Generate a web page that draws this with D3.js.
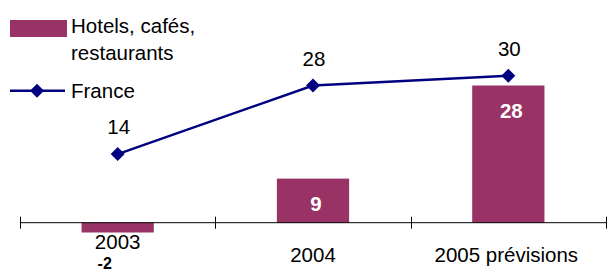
<!DOCTYPE html>
<html>
<head>
<meta charset="utf-8">
<script src="https://cdn.jsdelivr.net/npm/d3@7"></script>
<style>
  html, body { margin: 0; padding: 0; background: #fff; }
  svg { display: block; font-family: "Liberation Sans", Arial, sans-serif; }
</style>
</head>
<body>
<svg id="chart" width="607" height="273"></svg>
<script>
const categories = ["2003", "2004", "2005 prévisions"];
const hotels = [-2, 9, 28];
const france = [14, 28, 30];
const seriesNames = ["Hotels, cafés,\nrestaurants", "France"];

const barColor = "#993366";
const lineColor = "#000080";
const fs = 20.5;

const svg = d3.select("#chart");

const x = d3.scaleBand().domain(categories).range([20, 606]).padding(0);
const y = d3.scaleLinear().domain([0, 30]).range([222.7, 75.7]);
const barW = x.bandwidth() * 0.37;
const cx = c => x(c) + x.bandwidth() / 2;

// bars
svg.selectAll("rect.bar").data(categories).join("rect")
  .attr("class", "bar")
  .attr("x", c => cx(c) - barW / 2)
  .attr("width", barW)
  .attr("y", (c, i) => Math.min(y(hotels[i]), y(0)))
  .attr("height", (c, i) => Math.abs(y(hotels[i]) - y(0)))
  .attr("fill", barColor);

// axis
const axisG = svg.append("g").attr("transform", `translate(0,${y(0)})`);
axisG.append("line").attr("x1", 20).attr("x2", 606).attr("stroke", "#000").attr("stroke-width", 1);
const tickPos = categories.map(c => x(c)).concat([x.range()[1]]);
axisG.selectAll("line.tick").data(tickPos).join("line")
  .attr("class", "tick")
  .attr("x1", d => Math.round(d) + 0.5).attr("x2", d => Math.round(d) + 0.5)
  .attr("y1", -6).attr("y2", 6)
  .attr("stroke", "#000").attr("stroke-width", 1);

// category labels
svg.selectAll("text.cat").data(categories).join("text")
  .attr("class", "cat")
  .attr("x", (c, i) => cx(c) - (i === 2 ? 2 : 0))
  .attr("y", (c, i) => i === 0 ? 249 : 261.5)
  .attr("text-anchor", "middle")
  .attr("font-size", fs)
  .attr("fill", "#000")
  .text(c => c);

// bar value labels
svg.selectAll("text.barval").data(categories).join("text")
  .attr("class", "barval")
  .attr("x", (c, i) => hotels[i] < 0 ? cx(c) - 13 : cx(c) + 3)
  .attr("y", (c, i) => hotels[i] < 0 ? 269 : y(hotels[i]) + 32)
  .attr("text-anchor", "middle")
  .attr("font-size", (c, i) => hotels[i] < 0 ? 16 : fs)
  .attr("font-weight", "bold")
  .attr("fill", (c, i) => hotels[i] < 0 ? "#000" : "#fff")
  .text((c, i) => String(hotels[i]));

// line
const line = d3.line().x((d, i) => cx(categories[i])).y(d => y(d));
svg.append("path").datum(france)
  .attr("d", line)
  .attr("fill", "none")
  .attr("stroke", lineColor)
  .attr("stroke-width", 2.5);

const diamond = (px, py, r) => `M${px},${py - r}L${px + r},${py}L${px},${py + r}L${px - r},${py}Z`;
svg.selectAll("path.mk").data(france).join("path")
  .attr("class", "mk")
  .attr("d", (d, i) => diamond(cx(categories[i]), y(d), 7))
  .attr("fill", lineColor);

svg.selectAll("text.lineval").data(france).join("text")
  .attr("class", "lineval")
  .attr("x", (d, i) => cx(categories[i]) + 1)
  .attr("y", d => y(d) - 20)
  .attr("text-anchor", "middle")
  .attr("font-size", fs)
  .attr("fill", "#000")
  .text(d => d);

// legend
const leg = svg.append("g");
leg.append("rect").attr("x", 10).attr("y", 20).attr("width", 57).attr("height", 17).attr("fill", barColor);
const lines0 = seriesNames[0].split("\n");
leg.append("text").attr("x", 71).attr("y", 32.5).attr("font-size", fs).text(lines0[0]);
leg.append("text").attr("x", 71).attr("y", 60).attr("font-size", fs).text(lines0[1]);
leg.append("line").attr("x1", 10).attr("x2", 65).attr("y1", 90.7).attr("y2", 90.7)
  .attr("stroke", lineColor).attr("stroke-width", 2.5);
leg.append("path").attr("d", diamond(37, 90.7, 7)).attr("fill", lineColor);
leg.append("text").attr("x", 71).attr("y", 98.3).attr("font-size", fs).text(seriesNames[1]);
</script>
</body>
</html>
